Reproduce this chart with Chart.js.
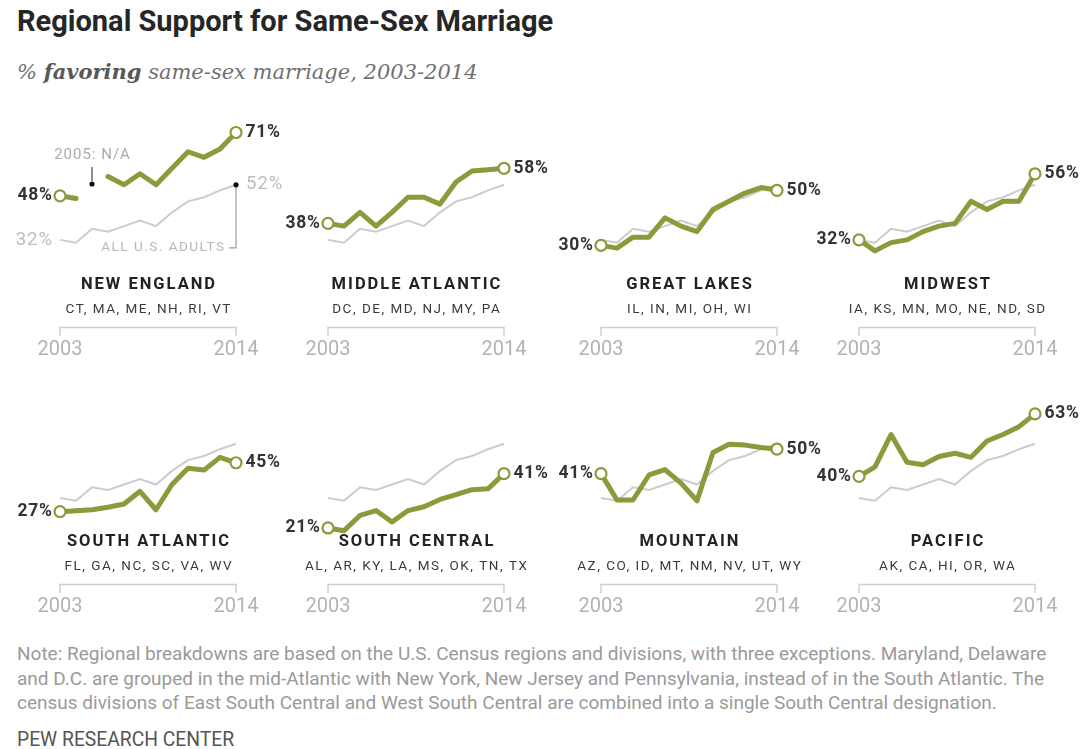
<!DOCTYPE html>
<html>
<head>
<meta charset="utf-8">
<script src="https://cdn.jsdelivr.net/npm/chart.js@4.4.1/dist/chart.umd.min.js"></script>
<style>
  html, body { margin: 0; padding: 0; background: #fff; }
  body { width: 1080px; height: 749px; position: relative; overflow: hidden; font-family: Roboto, "Liberation Sans", sans-serif; }
  #title { position: absolute; left: 17px; top: 4px; font-weight: bold; font-size: 29px; color: #262626; white-space: nowrap; }
  #subtitle { position: absolute; left: 17px; top: 59px; font-family: "DejaVu Serif", serif; font-style: italic; font-size: 21px; color: #707070; white-space: nowrap; }
  #subtitle b { color: #585858; }
  #note { position: absolute; left: 17px; top: 642px; font-family: Roboto, sans-serif; font-size: 19px; line-height: 24.5px; color: #9a9a9a; white-space: nowrap; }
  #source { position: absolute; left: 17px; top: 728px; font-family: Roboto, sans-serif; font-size: 19.3px; color: #555; white-space: nowrap; }
  canvas.panel { position: absolute; }
</style>
</head>
<body>
<div id="title">Regional Support for Same-Sex Marriage</div>
<div id="subtitle">% <b>favoring</b> same-sex marriage, 2003-2014</div>
<div id="note">Note: Regional breakdowns are based on the U.S. Census regions and divisions, with three exceptions. Maryland, Delaware<br>and D.C. are grouped in the mid-Atlantic with New York, New Jersey and Pennsylvania, instead of in the South Atlantic. The<br>census divisions of East South Central and West South Central are combined into a single South Central designation.</div>
<div id="source">PEW RESEARCH CENTER</div>

<script>
// Survey years (x axis)
const years = [2003, 2004, 2005, 2006, 2007, 2008, 2009, 2010, 2011, 2012, 2013, 2014];

// % favoring same-sex marriage, all U.S. adults (gray reference line)
const allAdults = [32, 31, 36, 35, 37, 39, 37, 42, 46, 47.5, 50, 52];

// % favoring, by region (null = no data that year)
const newEngland     = [48, 47, null, 55, 52, 56, 52, 58, 64, 62, 65, 71];
const middleAtlantic = [38, 37, 42, 37, 42, 47.5, 47.5, 45, 53, 57, 57.5, 58];
const greatLakes     = [30, 29, 33, 33, 40, 37, 35, 43, 46, 49, 51, 50];
const midwest        = [32, 28, 31, 32, 35, 37, 38, 46, 43, 46, 46, 56];
const southAtlantic  = [27, 27.3, 27.7, 28.6, 29.8, 34.5, 27.7, 37, 43, 42.3, 47, 45];
const southCentral   = [21, 20, 25.6, 27.4, 23.2, 27.4, 28.8, 31.5, 33.3, 35.1, 35.4, 41];
const mountain       = [41, 31.3, 31.3, 40.5, 42.5, 37.5, 31, 48.8, 51.8, 51.5, 50.6, 50];
const pacific        = [40, 43.5, 55.4, 45.2, 44.3, 47.3, 48.5, 47, 53, 55.4, 58.3, 63];

const regionNames  = ['NEW ENGLAND', 'MIDDLE ATLANTIC', 'GREAT LAKES', 'MIDWEST',
                      'SOUTH ATLANTIC', 'SOUTH CENTRAL', 'MOUNTAIN', 'PACIFIC'];
const regionStates = ['CT, MA, ME, NH, RI, VT', 'DC, DE, MD, NJ, MY, PA', 'IL, IN, MI, OH, WI',
                      'IA, KS, MN, MO, NE, ND, SD', 'FL, GA, NC, SC, VA, WV',
                      'AL, AR, KY, LA, MS, OK, TN, TX', 'AZ, CO, ID, MT, NM, NV, UT, WY',
                      'AK, CA, HI, OR, WA'];
const regionSeries = [newEngland, middleAtlantic, greatLakes, midwest,
                      southAtlantic, southCentral, mountain, pacific];

const GREEN = '#8b9a3b';
const GRAY_LINE = '#cccccc';
const FONT = 'Roboto, "Liberation Sans", sans-serif';

// Grid geometry for the small multiples
const COL_LEFT = [0, 270, 540, 810];
const COL_W = [300, 300, 300, 270];
const AXIS_START = [60, 328, 601, 859];   // pixel of first year in each column
const AXIS_SPAN = 176;
const ROW_TOP = [100, 360];
const PAD_TOP = [4, 1];
const PAD_BOTTOM = [32, 35];
const PANEL_H = 260;

function txt(ctx, s, x, y, font, color, align, spacing) {
  ctx.save();
  ctx.font = font;
  ctx.fillStyle = color;
  ctx.textAlign = align;
  ctx.textBaseline = 'middle';
  const sp = spacing || 0;
  ctx.letterSpacing = sp + 'px';
  // letter spacing trails the last glyph; compensate so alignment stays true
  let dx = 0;
  if (align === 'center') dx = sp / 2;
  else if (align === 'right') dx = sp;
  ctx.fillText(s, x + dx, y);
  ctx.restore();
}

// Panel decorations: end labels, region name, states, year bracket
const panelDecor = {
  id: 'panelDecor',
  afterDatasetsDraw(chart, args, opts) {
    const ctx = chart.ctx;
    const xs = chart.scales.x, ys = chart.scales.y;
    const vals = opts.values;
    const last = vals.length - 1;
    const x0 = xs.getPixelForValue(0), x1 = xs.getPixelForValue(last);
    const base = ys.getPixelForValue(0);
    const cx = (x0 + x1) / 2;

    // first / last value labels
    txt(ctx, vals[0] + '%', x0 - 8, ys.getPixelForValue(vals[0]), 'bold 17.5px ' + FONT, '#333', 'right', 0.7);
    txt(ctx, vals[last] + '%', x1 + 9.5, ys.getPixelForValue(vals[last]), 'bold 17.5px ' + FONT, '#333', 'left', 0.7);

    // region name and member states
    txt(ctx, opts.name, cx, base - 43, 'bold 16.5px ' + FONT, '#222', 'center', 2);
    txt(ctx, opts.states, cx, base - 18, '13.5px ' + FONT, '#3a3a3a', 'center', 1.5);

    // year bracket
    ctx.save();
    ctx.strokeStyle = '#cfcfcf';
    ctx.lineWidth = 1.5;
    ctx.beginPath();
    ctx.moveTo(x0, base + 8);
    ctx.lineTo(x0, base - 0.5);
    ctx.lineTo(x1, base - 0.5);
    ctx.lineTo(x1, base + 8);
    ctx.stroke();
    ctx.restore();
    txt(ctx, String(years[0]), x0, base + 22, '20px ' + FONT, '#b3b3b3', 'center');
    txt(ctx, String(years[last]), x1, base + 22, '20px ' + FONT, '#b3b3b3', 'center');

    if (opts.annotate) {
      // reference line labels
      const a0 = ys.getPixelForValue(allAdults[0]);
      const a1 = ys.getPixelForValue(allAdults[last]);
      txt(ctx, allAdults[0] + '%', x0 - 8, a0, '18.5px ' + FONT, '#bdbdbd', 'right', 1);
      txt(ctx, allAdults[last] + '%', x1 + 10, a1, '18.5px ' + FONT, '#bdbdbd', 'left', 1);
      ctx.save();
      ctx.lineWidth = 1.2;
      ctx.strokeStyle = '#9a9a9a';
      ctx.beginPath();
      ctx.moveTo(x1, a1);
      ctx.lineTo(x1, a0 + 8);
      ctx.lineTo(x1 - 7, a0 + 8);
      ctx.stroke();
      ctx.fillStyle = '#111';
      ctx.beginPath();
      ctx.arc(x1, a1, 2.6, 0, Math.PI * 2);
      ctx.fill();
      ctx.restore();
      txt(ctx, 'ALL U.S. ADULTS', x1 - 12, a0 + 8, '13.5px ' + FONT, '#b8b8b8', 'right', 1.5);

      // missing-year note
      const gi = vals.indexOf(null);
      const gx = xs.getPixelForValue(gi);
      const gy = ys.getPixelForValue(opts.gapMarkValue);
      ctx.save();
      ctx.strokeStyle = '#444';
      ctx.lineWidth = 1.2;
      ctx.beginPath();
      ctx.moveTo(gx, gy - 17);
      ctx.lineTo(gx, gy - 3);
      ctx.stroke();
      ctx.fillStyle = '#111';
      ctx.beginPath();
      ctx.arc(gx, gy, 2.6, 0, Math.PI * 2);
      ctx.fill();
      ctx.restore();
      txt(ctx, years[gi] + ': N/A', gx, gy - 29, '15px ' + FONT, '#aaaaaa', 'center', 1);
    }
  }
};

regionSeries.forEach((vals, i) => {
  const row = Math.floor(i / 4), col = i % 4;
  const w = COL_W[col];
  const cv = document.createElement('canvas');
  cv.className = 'panel';
  cv.width = w; cv.height = PANEL_H;
  cv.style.left = COL_LEFT[col] + 'px';
  cv.style.top = ROW_TOP[row] + 'px';
  cv.style.width = w + 'px';
  cv.style.height = PANEL_H + 'px';
  document.body.appendChild(cv);
  const last = vals.length - 1;
  const padLeft = AXIS_START[col] - COL_LEFT[col];
  const padRight = w - padLeft - AXIS_SPAN;

  new Chart(cv, {
    type: 'line',
    data: {
      labels: years,
      datasets: [
        {
          data: vals,
          borderColor: GREEN,
          borderWidth: 5,
          borderJoinStyle: 'round',
          borderCapStyle: 'round',
          spanGaps: false,
          tension: 0,
          clip: false,
          pointRadius: vals.map((v, k) => (k === 0 || k === last) ? 5.5 : 0),
          pointBackgroundColor: '#fff',
          pointBorderColor: GREEN,
          pointBorderWidth: 2.2
        },
        {
          data: allAdults,
          borderColor: GRAY_LINE,
          borderWidth: 2,
          tension: 0,
          clip: false,
          pointRadius: 0
        }
      ]
    },
    options: {
      responsive: false,
      animation: false,
      events: [],
      devicePixelRatio: 1,
      layout: { padding: { left: padLeft, right: padRight, top: PAD_TOP[row], bottom: PAD_BOTTOM[row] } },
      scales: {
        x: { type: 'category', offset: false, display: false },
        y: { type: 'linear', min: 0, max: 80, display: false }
      },
      plugins: {
        legend: { display: false },
        tooltip: { enabled: false },
        panelDecor: {
          values: vals,
          name: regionNames[i],
          states: regionStates[i],
          annotate: i === 0,
          gapMarkValue: 52.3
        }
      }
    },
    plugins: [panelDecor]
  });
});
</script>
</body>
</html>
